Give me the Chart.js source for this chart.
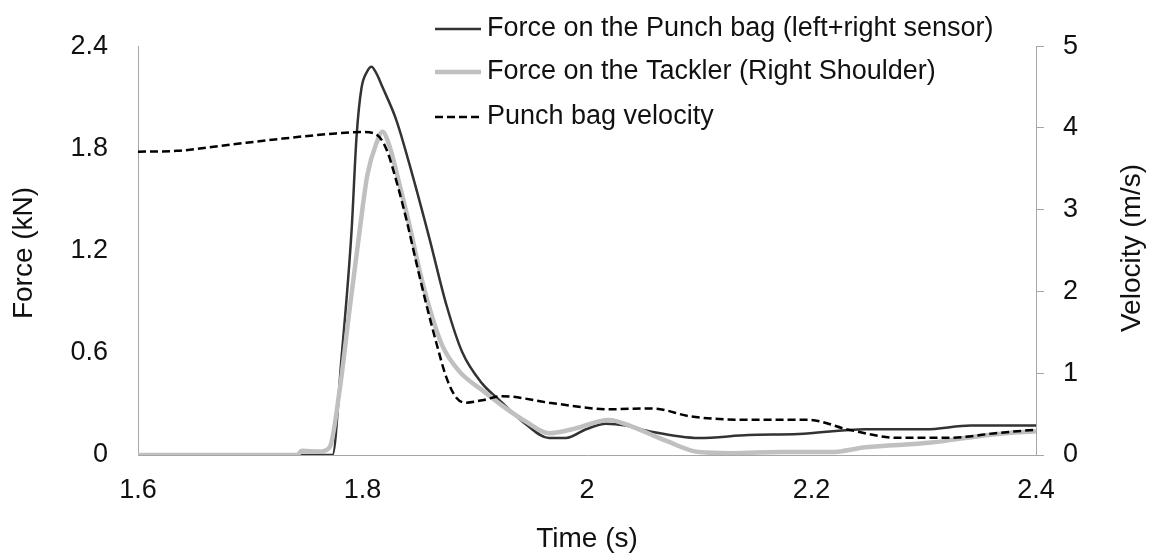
<!DOCTYPE html>
<html>
<head>
<meta charset="utf-8">
<script src="https://cdn.jsdelivr.net/npm/chart.js@4.4.0/dist/chart.umd.min.js"></script>
<style>
  body { margin: 0; background: #fff; }
</style>
</head>
<body>
<canvas id="chart" width="1151" height="556"></canvas>
<script>
// Tick labels
const xTickLabels = ['1.6', '1.8', '2', '2.2', '2.4'];
const forceTickLabels = ['0', '0.6', '1.2', '1.8', '2.4'];
const velTickLabels = ['0', '1', '2', '3', '4', '5'];

// Force on the Punch bag (kN)
const punchTime  = [1.6, 1.746, 1.7733, 1.7813, 1.7902, 1.7947, 1.799, 1.804, 1.808, 1.8124, 1.8178, 1.8302, 1.8444, 1.8596, 1.8747, 1.8889, 1.9067, 1.9218, 1.9458, 1.9662, 1.9813, 1.9991, 2.0169, 2.0347, 2.0551, 2.0996, 2.144, 2.1884, 2.248, 2.3013, 2.342, 2.4];
const punchForce = [0, 0, 0, 0.57, 1.31, 1.87, 2.15, 2.25, 2.28, 2.24, 2.16, 1.965, 1.646, 1.272, 0.882, 0.603, 0.419, 0.324, 0.179, 0.10, 0.10, 0.151, 0.184, 0.173, 0.140, 0.100, 0.117, 0.123, 0.151, 0.151, 0.173, 0.173];

// Force on the Tackler (kN)
const tacklerTime  = [1.6, 1.742, 1.7458, 1.7618, 1.7707, 1.7796, 1.7884, 1.7973, 1.8044, 1.8124, 1.8178, 1.824, 1.8329, 1.8418, 1.8507, 1.8596, 1.8711, 1.8862, 1.9067, 1.9244, 1.9458, 1.9662, 1.9867, 2.0196, 2.04, 2.0702, 2.0996, 2.1289, 2.1733, 2.2178, 2.248, 2.3067, 2.3369, 2.3662, 2.4];
const tacklerForce = [0, 0, 0.025, 0.02, 0.045, 0.38, 0.848, 1.31, 1.646, 1.83, 1.898, 1.814, 1.59, 1.35, 1.088, 0.865, 0.642, 0.491, 0.38, 0.29, 0.195, 0.128, 0.151, 0.206, 0.167, 0.084, 0.017, 0.011, 0.017, 0.017, 0.045, 0.073, 0.1, 0.123, 0.14];

// Punch bag velocity (m/s)
const velTime  = [1.6, 1.6347, 1.6844, 1.7289, 1.7733, 1.8, 1.8124, 1.8213, 1.8302, 1.8391, 1.848, 1.8569, 1.8658, 1.8747, 1.8836, 1.8924, 1.9067, 1.9244, 1.9662, 2.0196, 2.0578, 2.0933, 2.144, 2.1973, 2.2329, 2.2773, 2.3218, 2.3662, 2.4];
const velocity = [3.71, 3.72, 3.80, 3.87, 3.93, 3.95, 3.92, 3.74, 3.35, 2.88, 2.35, 1.84, 1.37, 0.95, 0.70, 0.64, 0.67, 0.72, 0.64, 0.56, 0.57, 0.47, 0.43, 0.43, 0.31, 0.21, 0.21, 0.27, 0.31];

function toPoints(xs, ys) {
    return xs.map((x, i) => ({ x: x, y: ys[i] }));
}

const axisColor = '#a6a6a6';
const textColor = '#111';
const fontFamily = '"Liberation Sans", Arial, sans-serif';
Chart.defaults.font.family = fontFamily;
Chart.defaults.color = textColor;

// Legend inside the plot + both y axis titles (read bottom to top)
const overlay = {
    id: 'overlay',
    afterDraw(chart) {
        const c = chart.ctx;
        const rows = [29, 72, 117];
        c.save();
        c.font = '27px ' + fontFamily;
        c.textBaseline = 'middle';
        chart.data.datasets.forEach((ds, i) => {
            c.strokeStyle = ds.borderColor;
            c.lineWidth = ds.borderWidth;
            c.setLineDash(ds.borderDash || []);
            c.beginPath();
            c.moveTo(435, rows[i]);
            c.lineTo(481, rows[i]);
            c.stroke();
            c.setLineDash([]);
            c.fillStyle = textColor;
            c.fillText(ds.label, 487, rows[i]);
        });
        c.font = '28px ' + fontFamily;
        c.textAlign = 'center';
        c.save();
        c.translate(24, 253);
        c.rotate(-Math.PI / 2);
        c.fillText('Force (kN)', 0, 0);
        c.restore();
        c.translate(1132, 248);
        c.rotate(-Math.PI / 2);
        c.fillText('Velocity (m/s)', 0, 0);
        c.restore();
    }
};

const ctx = document.getElementById('chart').getContext('2d');
const chart = new Chart(ctx, {
    type: 'line',
    data: {
        datasets: [{
            label: 'Force on the Punch bag (left+right sensor)',
            data: toPoints(punchTime, punchForce),
            borderColor: '#333333',
            borderWidth: 2.5,
            yAxisID: 'y',
            order: 2
        }, {
            label: 'Force on the Tackler (Right Shoulder)',
            data: toPoints(tacklerTime, tacklerForce),
            borderColor: '#c0c0c0',
            borderWidth: 4.5,
            yAxisID: 'y',
            order: 1
        }, {
            label: 'Punch bag velocity',
            data: toPoints(velTime, velocity),
            borderColor: '#000000',
            borderWidth: 2.5,
            borderDash: [8, 4],
            yAxisID: 'y1',
            order: 0
        }]
    },
    options: {
        responsive: false,
        animation: false,
        events: [],
        layout: { padding: { top: 25, left: 0, right: 0, bottom: 0 } },
        elements: {
            point: { radius: 0 },
            line: { cubicInterpolationMode: 'monotone', fill: false }
        },
        plugins: {
            legend: { display: false },
            tooltip: { enabled: false }
        },
        scales: {
            x: {
                type: 'linear',
                min: 1.6,
                max: 2.4,
                afterFit: function(s) { s.height = 101; },
                grid: { display: false, drawTicks: false },
                border: { color: axisColor, width: 1 },
                ticks: {
                    stepSize: 0.2,
                    padding: 19,
                    font: { size: 27 },
                    color: textColor,
                    callback: function(v, i) { return xTickLabels[i]; }
                },
                title: { display: true, text: 'Time (s)', font: { size: 28 }, color: textColor, padding: { top: 0, bottom: 0 } }
            },
            y: {
                position: 'left',
                min: 0,
                max: 2.4,
                afterFit: function(s) { s.width = 138; },
                grid: { display: false, drawTicks: false },
                border: { color: axisColor, width: 1 },
                ticks: {
                    stepSize: 0.6,
                    padding: 30,
                    font: { size: 27 },
                    color: textColor,
                    callback: function(v, i) { return forceTickLabels[i]; }
                }
            },
            y1: {
                position: 'right',
                min: 0,
                max: 5,
                afterFit: function(s) { s.width = 115; },
                grid: { drawOnChartArea: false, drawTicks: true, tickLength: 8, color: axisColor },
                border: { color: axisColor, width: 1 },
                ticks: {
                    stepSize: 1,
                    padding: 19,
                    font: { size: 27 },
                    color: textColor,
                    callback: function(v, i) { return velTickLabels[i]; }
                }
            }
        }
    },
    plugins: [overlay]
});
</script>
</body>
</html>
